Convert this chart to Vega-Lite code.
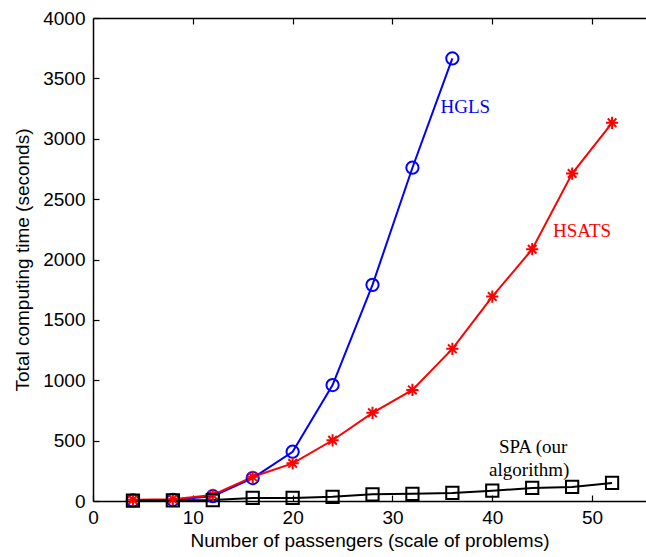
{
  "$schema": "https://vega.github.io/schema/vega-lite/v6.json",
  "autosize": "none",
  "width": 553,
  "height": 483,
  "padding": {"left": 93, "top": 18, "right": 0, "bottom": 56},
  "background": "white",
  "config": {
    "view": {"stroke": null},
    "font": "Liberation Sans",
    "axis": {
      "domainColor": "black", "domainWidth": 1.5, "tickColor": "black", "tickWidth": 1.2,
      "labelColor": "black", "titleColor": "black", "labelFont": "Liberation Sans", "titleFont": "Liberation Sans",
      "labelFontSize": 19, "titleFontSize": 19, "titleFontWeight": "normal", "grid": false
    }
  },
  "datasets": {
    "series": [
      {"n": 4, "t": 5, "alg": "HGLS"}, {"n": 8, "t": 10, "alg": "HGLS"}, {"n": 12, "t": 40, "alg": "HGLS"},
      {"n": 16, "t": 190, "alg": "HGLS"}, {"n": 20, "t": 408, "alg": "HGLS"}, {"n": 24, "t": 960, "alg": "HGLS"},
      {"n": 28, "t": 1790, "alg": "HGLS"}, {"n": 32, "t": 2760, "alg": "HGLS"}, {"n": 36, "t": 3665, "alg": "HGLS"},
      {"n": 4, "t": 10, "alg": "HSATS"}, {"n": 8, "t": 15, "alg": "HSATS"}, {"n": 12, "t": 50, "alg": "HSATS"},
      {"n": 16, "t": 200, "alg": "HSATS"}, {"n": 20, "t": 312, "alg": "HSATS"}, {"n": 24, "t": 503, "alg": "HSATS"},
      {"n": 28, "t": 730, "alg": "HSATS"}, {"n": 32, "t": 920, "alg": "HSATS"}, {"n": 36, "t": 1260, "alg": "HSATS"},
      {"n": 40, "t": 1693, "alg": "HSATS"}, {"n": 44, "t": 2085, "alg": "HSATS"}, {"n": 48, "t": 2712, "alg": "HSATS"},
      {"n": 52, "t": 3132, "alg": "HSATS"},
      {"n": 4, "t": 3, "alg": "SPA"}, {"n": 8, "t": 5, "alg": "SPA"}, {"n": 12, "t": 8, "alg": "SPA"},
      {"n": 16, "t": 25, "alg": "SPA"}, {"n": 20, "t": 25, "alg": "SPA"}, {"n": 24, "t": 35, "alg": "SPA"},
      {"n": 28, "t": 55, "alg": "SPA"}, {"n": 32, "t": 60, "alg": "SPA"}, {"n": 36, "t": 67, "alg": "SPA"},
      {"n": 40, "t": 85, "alg": "SPA"}, {"n": 44, "t": 108, "alg": "SPA"}, {"n": 48, "t": 116, "alg": "SPA"},
      {"n": 52, "t": 150, "alg": "SPA"}
    ],
    "labels": [
      {"n": 37.3, "t": 3262, "text": "HGLS", "alg": "HGLS"},
      {"n": 49.0, "t": 2235, "text": "HSATS", "alg": "HSATS"},
      {"n": 44.1, "t": 445, "text": "SPA (our", "alg": "SPA"},
      {"n": 43.7, "t": 255, "text": "algorithm)", "alg": "SPA"}
    ]
  },
  "resolve": {"axis": {"x": "independent"}},
  "layer": [
    {
      "data": {"name": "series"},
      "mark": {"type": "line", "strokeWidth": 2, "clip": false},
      "encoding": {
        "x": {"field": "n", "type": "quantitative",
          "scale": {"domain": [0, 55.4], "nice": false, "zero": false},
          "axis": {"title": "Number of passengers (scale of problems)", "values": [0, 10, 20, 30, 40, 50], "format": "d", "tickSize": -6, "labelPadding": 13, "titlePadding": 4, "labelFlush": false}},
        "y": {"field": "t", "type": "quantitative",
          "scale": {"domain": [0, 4000], "nice": false},
          "axis": {"title": "Total computing time (seconds)", "values": [0, 500, 1000, 1500, 2000, 2500, 3000, 3500, 4000], "format": "d", "tickSize": -6, "labelPadding": 14, "titlePadding": 10}},
        "color": {"field": "alg", "type": "nominal", "scale": {"domain": ["HGLS", "HSATS", "SPA"], "range": ["#0000ff", "#ff0000", "#000000"]}, "legend": null},
        "detail": {"field": "alg"}
      }
    },
    {
      "data": {"name": "series"},
      "mark": {"type": "point", "filled": false, "strokeWidth": 2, "opacity": 1},
      "encoding": {
        "x": {"field": "n", "type": "quantitative", "axis": {"orient": "top", "labels": false, "title": null, "values": [10, 20, 30, 40, 50], "tickSize": -6}},
        "y": {"field": "t", "type": "quantitative"},
        "color": {"field": "alg", "type": "nominal", "legend": null},
        "shape": {"field": "alg", "type": "nominal", "scale": {"domain": ["HGLS", "HSATS", "SPA"], "range": ["circle", "M-1,0L1,0M0,-1L0,1M-0.7,-0.7L0.7,0.7M-0.7,0.7L0.7,-0.7", "square"]}, "legend": null},
        "size": {"field": "alg", "type": "nominal", "scale": {"domain": ["HGLS", "HSATS", "SPA"], "range": [150, 150, 110]}, "legend": null}
      }
    },
    {
      "data": {"name": "labels"},
      "mark": {"type": "text", "font": "Liberation Serif", "fontSize": 19, "baseline": "middle", "align": "center"},
      "encoding": {
        "x": {"field": "n", "type": "quantitative", "axis": null},
        "y": {"field": "t", "type": "quantitative"},
        "text": {"field": "text"},
        "color": {"field": "alg", "type": "nominal", "legend": null}
      }
    }
  ]
}
